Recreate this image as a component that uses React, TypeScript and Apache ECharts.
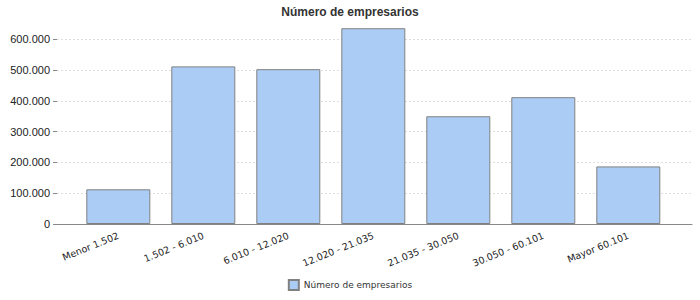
import React, { useEffect, useRef } from "react";
import * as echarts from "echarts";

const categories = [
  "Menor 1.502",
  "1.502 - 6.010",
  "6.010 - 12.020",
  "12.020 - 21.035",
  "21.035 - 30.050",
  "30.050 - 60.101",
  "Mayor 60.101",
];
const seriesName = "Número de empresarios";
const values = [112700, 512000, 503000, 636000, 350000, 412000, 187000];
const yTicks = { min: 0, max: 600000, interval: 100000 };

function fmt(v: number): string {
  return String(v).replace(/\B(?=(\d{3})+(?!\d))/g, ".");
}

export default function App() {
  const ref = useRef<HTMLDivElement>(null);
  useEffect(() => {
    if (!ref.current) return;
    const chart = echarts.init(ref.current, null, { renderer: "svg" });
    const font = "'Liberation Sans', Arial, sans-serif";
    chart.setOption({
      animation: false,
      backgroundColor: "#ffffff",
      title: {
        text: seriesName,
        left: "center",
        top: 1,
        textStyle: { fontFamily: font, fontSize: 12, fontWeight: "bold", color: "#333333" },
      },
      legend: {
        bottom: 4,
        left: "center",
        icon: "rect",
        itemWidth: 10,
        itemHeight: 10,
        itemGap: 5,
        data: [seriesName],
        textStyle: { fontFamily: "'DejaVu Sans', sans-serif", fontSize: 9, color: "#333333" },
      },
      grid: [
        { left: 57, right: 8, top: 39.3, bottom: 76 },
        { left: 75.8, right: 29.2, top: 39.3, bottom: 76 },
      ],
      xAxis: [
        {
          type: "value",
          gridIndex: 0,
          min: 0,
          max: 1,
          axisLine: { show: true, onZero: false, lineStyle: { color: "#888888", width: 1 } },
          axisTick: { show: false },
          axisLabel: { show: false },
          splitLine: { show: false },
        },
        {
          type: "category",
          gridIndex: 1,
          data: categories,
          axisLine: { show: false },
          axisTick: { show: false },
          axisLabel: {
            rotate: 22,
            margin: 11,
            interval: 0,
            fontFamily: "'DejaVu Sans', sans-serif",
            fontSize: 9.5,
            color: "#222222",
          },
        },
      ],
      yAxis: [
        {
          type: "value",
          gridIndex: 0,
          min: yTicks.min,
          max: yTicks.max,
          interval: yTicks.interval,
          axisLine: { show: false },
          axisTick: { show: true, length: 4, lineStyle: { color: "#888888" } },
          axisLabel: {
            margin: 7,
            fontFamily: font,
            fontSize: 11,
            color: "#222222",
            formatter: (v: number) => fmt(v),
          },
          splitLine: { show: true, lineStyle: { color: "#dddddd", type: [2, 2], width: 1 } },
        },
        {
          type: "value",
          gridIndex: 1,
          min: yTicks.min,
          max: yTicks.max,
          show: false,
          splitLine: { show: false },
        },
      ],
      series: [
        {
          name: seriesName,
          type: "bar",
          xAxisIndex: 1,
          yAxisIndex: 1,
          data: values,
          barWidth: 64,
          clip: false,
          itemStyle: { color: "#aaccf5", borderColor: "#808080", borderWidth: 1 },
        },
      ],
    });
    return () => chart.dispose();
  }, []);
  return (
    <div
      ref={ref}
      style={{ position: "fixed", left: 0, top: 0, width: 700, height: 300 }}
    />
  );
}
